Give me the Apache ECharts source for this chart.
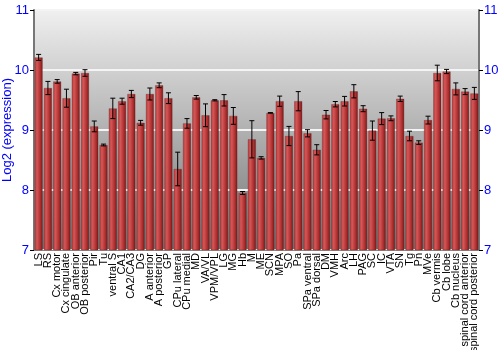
<!DOCTYPE html>
<html><head><meta charset="utf-8">
<script src="https://cdn.jsdelivr.net/npm/echarts@6/dist/echarts.min.js"></script>
<style>html,body{margin:0;padding:0;background:#fff}#c{width:500px;height:350px}</style>
</head><body><div id="c"></div>
<script>
var categories = ["LS","RS","Cx motor","Cx cingulate","OB anterior","OB posterior","Pir","Tu","ventral S","CA1","CA2/CA3","DG","A anterior","A posterior","GP","CPu lateral","CPu medial","MD","VA/VL","VPM/VPL","LG","MG","Hb","M","ME","SCN","MPA","SO","Pa","SPa ventral","SPa dorsal","DM","VMH","Arc","LH","PAG","SC","IC","VTA","SN","Tg","Pn","MVe","Cb vermis","Cb lobe","Cb nucleus","spinal cord anterior","spinal cord posterior"];
var values = [10.21,9.70,9.81,9.53,9.94,9.95,9.06,8.75,9.36,9.48,9.60,9.12,9.60,9.745,9.53,8.35,9.11,9.545,9.245,9.495,9.495,9.235,7.95,8.845,8.535,9.285,9.48,8.90,9.48,8.945,8.67,9.255,9.43,9.48,9.645,9.355,8.99,9.19,9.195,9.52,8.90,8.79,9.165,9.95,9.975,9.685,9.64,9.61];
var errors = [0.05,0.11,0.03,0.15,0.02,0.055,0.09,0.015,0.17,0.05,0.06,0.04,0.10,0.04,0.09,0.28,0.08,0.03,0.19,0.01,0.095,0.14,0.025,0.31,0.02,0.005,0.085,0.16,0.16,0.06,0.085,0.07,0.045,0.08,0.11,0.05,0.16,0.10,0.04,0.045,0.08,0.03,0.065,0.13,0.035,0.10,0.05,0.10];
var yTicks = [7,8,9,10,11];

var chart = echarts.init(document.getElementById('c'), null, {renderer:'canvas'});
var errData = values.map(function(v,i){return [i, v-errors[i], v+errors[i]];});
var blue = '#0000ff';
function yAxisCfg(pos){
  return {
    type:'value', position:pos, min:yTicks[0], max:yTicks[yTicks.length-1], interval:1,
    name: pos==='left' ? 'Log2 (expression)' : '',
    nameLocation:'middle', nameGap:20, nameRotate:90, nameMoveOverlap:false,
    nameTextStyle:{color:blue,fontSize:13,fontFamily:'Liberation Sans'},
    axisLine:{show:true,lineStyle:{color:'#777',width:2}},
    axisTick:{show:true,length:4,lineStyle:{color:'#000'}},
    axisLabel:{color:blue,fontSize:13,fontFamily:'Liberation Sans',margin:5},
    splitLine:{show: pos==='left', lineStyle:{color:'#f4f4f4',width:2}}
  };
}
chart.setOption({
  animation:false,
  grid:{left:34,right:21,top:10,bottom:100,show:true,borderColor:'#888',borderWidth:1,
    outerBoundsMode:'none', containLabel:false,
    backgroundColor:new echarts.graphic.LinearGradient(0,0,0,1,[{offset:0,color:'#f0f0f0'},{offset:1,color:'#727272'}])},
  xAxis:{type:'category',data:categories,
    axisLine:{show:true,lineStyle:{color:'#888'}},axisTick:{show:false},
    axisLabel:{rotate:90,interval:0,color:'#000',fontSize:11,fontFamily:'Liberation Sans',margin:3}},
  yAxis:[yAxisCfg('left'), yAxisCfg('right')],
  series:[
    {type:'bar',data:values,barCategoryGap:'14%',yAxisIndex:0,
     itemStyle:{borderColor:'rgba(90,30,30,0.6)',borderWidth:0.5,
       color:new echarts.graphic.LinearGradient(0,0,1,0,[{offset:0,color:'#b83a3a'},{offset:0.3,color:'#d45656'},{offset:0.7,color:'#b03030'},{offset:1,color:'#7a1818'}])}},
    {type:'custom',data:errData,yAxisIndex:0,z:10,
     renderItem:function(params,api){
       var x=api.value(0), lo=api.coord([x,api.value(1)]), hi=api.coord([x,api.value(2)]);
       var w=2.5, st={stroke:'#000',lineWidth:1};
       return {type:'group',children:[
         {type:'line',shape:{x1:lo[0],y1:lo[1],x2:hi[0],y2:hi[1]},style:st},
         {type:'line',shape:{x1:lo[0]-w,y1:lo[1],x2:lo[0]+w,y2:lo[1]},style:st},
         {type:'line',shape:{x1:hi[0]-w,y1:hi[1],x2:hi[0]+w,y2:hi[1]},style:st}
       ]};
     }}
  ]
});
</script></body></html>
